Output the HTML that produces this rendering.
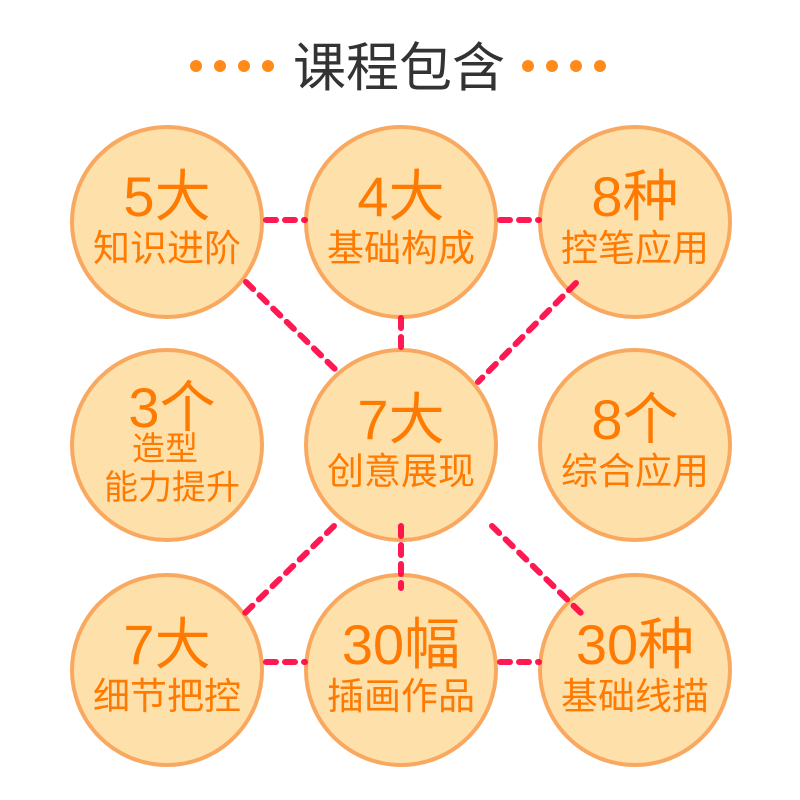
<!DOCTYPE html><html><head><meta charset="utf-8"><style>body{margin:0;background:#fff}svg{display:block}text{font-family:"Liberation Sans","Noto Sans CJK SC",sans-serif;text-anchor:middle}</style></head><body>
<svg width="800" height="800" viewBox="0 0 800 800">
<text x="399" y="86" font-size="53" fill="#333">课程包含</text>
<g fill="#ff8a1a"><circle cx="196" cy="66" r="6"/><circle cx="220" cy="66" r="6"/><circle cx="244" cy="66" r="6"/><circle cx="268" cy="66" r="6"/><circle cx="528" cy="66" r="6"/><circle cx="552" cy="66" r="6"/><circle cx="576" cy="66" r="6"/><circle cx="600" cy="66" r="6"/></g>
<g fill="#fee0ab" stroke="#f9a860" stroke-width="4">
<circle cx="167" cy="222" r="95"/><circle cx="401" cy="222" r="95"/><circle cx="635" cy="222" r="95"/>
<circle cx="167" cy="445" r="95"/><circle cx="401" cy="445" r="95"/><circle cx="635" cy="445" r="95"/>
<circle cx="167" cy="670" r="95"/><circle cx="401" cy="670" r="95"/><circle cx="635" cy="670" r="95"/></g>
<g stroke="#ff0040" stroke-width="6" stroke-linecap="round" stroke-dasharray="10 9" opacity="0.9" fill="none">
<line x1="266" y1="220" x2="305" y2="220"/><line x1="500" y1="220" x2="539" y2="220"/>
<line x1="246" y1="282" x2="338" y2="372"/><line x1="401" y1="318" x2="401" y2="356"/><line x1="576" y1="283" x2="478" y2="382"/>
<line x1="334" y1="526" x2="245" y2="613"/><line x1="401" y1="526" x2="401" y2="588"/><line x1="492" y1="526" x2="582" y2="614"/>
<line x1="266" y1="662" x2="305" y2="662"/><line x1="500" y1="662" x2="539" y2="662"/></g>
<g fill="#ff7a00">
<text x="167" y="216" font-size="56">5大</text><text x="167" y="261" font-size="37">知识进阶</text>
<text x="401" y="216" font-size="56">4大</text><text x="401" y="261" font-size="37">基础构成</text>
<text x="635" y="216" font-size="56">8种</text><text x="635" y="261" font-size="37">控笔应用</text>
<text x="172" y="427" font-size="56">3个</text><text x="165" y="460" font-size="33">造型</text><text x="172" y="499" font-size="34">能力提升</text>
<text x="401" y="439" font-size="56">7大</text><text x="401" y="484" font-size="37">创意展现</text>
<text x="635" y="439" font-size="56">8个</text><text x="635" y="484" font-size="37">综合应用</text>
<text x="167" y="664" font-size="56">7大</text><text x="167" y="709" font-size="37">细节把控</text>
<text x="401" y="664" font-size="56">30幅</text><text x="401" y="709" font-size="37">插画作品</text>
<text x="635" y="664" font-size="56">30种</text><text x="635" y="709" font-size="37">基础线描</text></g>
</svg></body></html>
